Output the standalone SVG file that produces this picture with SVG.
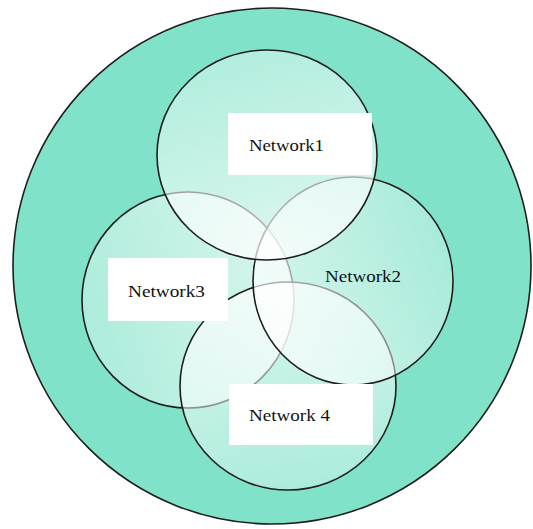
<svg xmlns="http://www.w3.org/2000/svg" width="533" height="529" viewBox="0 0 533 529">
<style>
.ring{stroke:#1e1e1e;stroke-width:1.6}
.box{fill:#ffffff}
.lbl{font-family:"Liberation Serif","Times New Roman",serif;font-size:17px;fill:#111}
</style>
<defs>
<linearGradient id="g1" x1="0" y1="0" x2="0.3" y2="1">
<stop offset="0" stop-color="#fff" stop-opacity="0.35"/>
<stop offset="1" stop-color="#fff" stop-opacity="0.7"/>
</linearGradient>
<linearGradient id="g2" x1="1" y1="0.3" x2="0" y2="0.7">
<stop offset="0" stop-color="#fff" stop-opacity="0.3"/>
<stop offset="1" stop-color="#fff" stop-opacity="0.7"/>
</linearGradient>
<linearGradient id="g3" x1="0" y1="0.6" x2="1" y2="0.3">
<stop offset="0" stop-color="#fff" stop-opacity="0.35"/>
<stop offset="1" stop-color="#fff" stop-opacity="0.7"/>
</linearGradient>
<linearGradient id="g4" x1="0.3" y1="0" x2="0.5" y2="1">
<stop offset="0" stop-color="#fff" stop-opacity="0.7"/>
<stop offset="1" stop-color="#fff" stop-opacity="0.35"/>
</linearGradient>
</defs>
<rect width="533" height="529" fill="#ffffff"/>
<g id="outer">
<ellipse cx="272" cy="266" rx="259" ry="258" fill="#80e2c9" class="ring"/>
</g>
<g id="network3">
<ellipse cx="188" cy="300" rx="106" ry="108" fill="url(#g3)" class="ring"/>
</g>
<g id="network4">
<ellipse cx="288" cy="386" rx="108" ry="104" fill="url(#g4)" class="ring"/>
</g>
<g id="network2">
<ellipse cx="353" cy="281" rx="100" ry="104" fill="url(#g2)" class="ring"/>
</g>
<g id="network1">
<ellipse cx="267" cy="155" rx="110" ry="105" fill="url(#g1)" class="ring"/>
</g>
<g id="labels">
<g id="label1">
<rect class="box" x="228" y="113" width="144" height="62"/>
<text class="lbl" x="249" y="151" textLength="75" lengthAdjust="spacingAndGlyphs">Network1</text>
</g>
<g id="label3">
<rect class="box" x="108" y="258" width="120" height="63"/>
<text class="lbl" x="128" y="297" textLength="77" lengthAdjust="spacingAndGlyphs">Network3</text>
</g>
<g id="label2">
<text class="lbl" x="325" y="282" textLength="76" lengthAdjust="spacingAndGlyphs">Network2</text>
</g>
<g id="label4">
<rect class="box" x="229" y="384" width="144" height="61"/>
<text class="lbl" x="249" y="421" textLength="81" lengthAdjust="spacingAndGlyphs">Network 4</text>
</g>
</g>
</svg>
